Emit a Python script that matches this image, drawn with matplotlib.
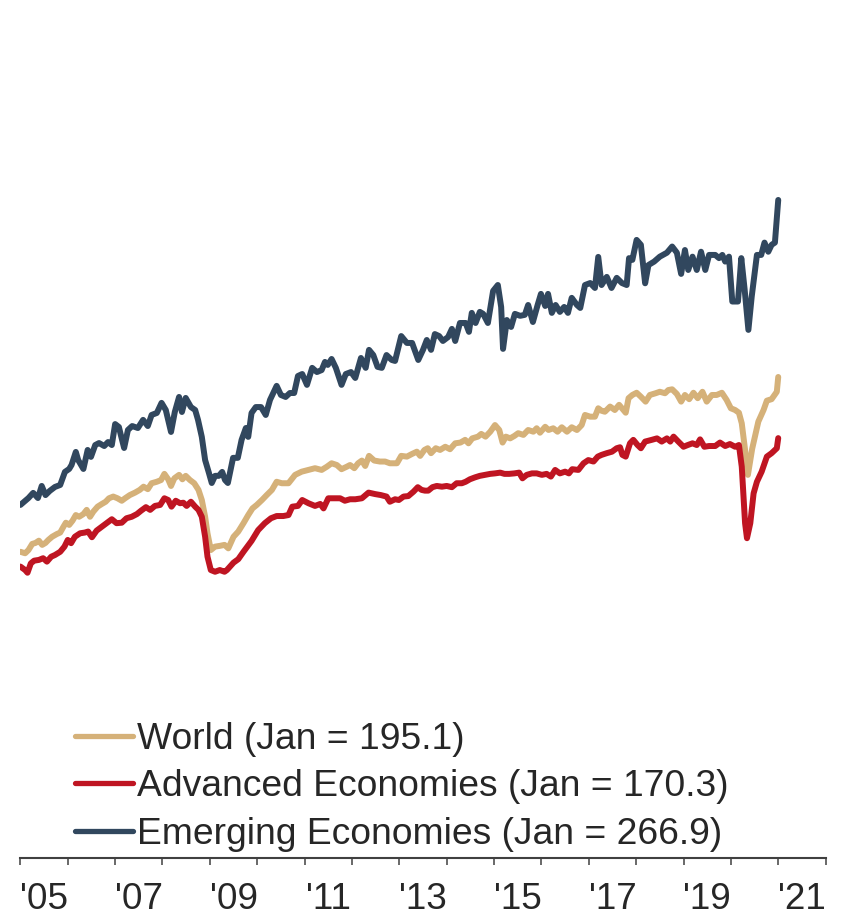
import matplotlib
matplotlib.use("Agg")
import matplotlib.pyplot as plt
import numpy as np

# Index values (decimal year, index level)
world = [
    (2005.00, 124.2), (2005.10, 123.6), (2005.17, 124.9), (2005.25, 127.4), (2005.32, 127.8),
    (2005.39, 128.7), (2005.46, 127.0), (2005.53, 127.8), (2005.59, 129.0), (2005.67, 130.3),
    (2005.77, 131.4), (2005.84, 132.0), (2005.91, 134.4), (2005.96, 136.0), (2006.03, 135.1),
    (2006.10, 136.8), (2006.17, 139.1), (2006.24, 138.4), (2006.33, 139.5), (2006.40, 141.2),
    (2006.47, 138.4), (2006.54, 140.5), (2006.63, 142.5), (2006.72, 143.6), (2006.80, 144.5),
    (2006.87, 145.9), (2006.96, 146.6), (2007.05, 145.9), (2007.14, 144.9), (2007.21, 145.9),
    (2007.31, 147.2), (2007.42, 148.2), (2007.52, 149.3), (2007.60, 150.6), (2007.69, 149.6),
    (2007.77, 152.0), (2007.88, 152.6), (2007.97, 153.3), (2008.04, 155.8), (2008.12, 153.6),
    (2008.18, 150.9), (2008.25, 154.0), (2008.35, 155.4), (2008.42, 153.6), (2008.49, 155.0),
    (2008.58, 153.3), (2008.67, 152.0), (2008.76, 149.3), (2008.83, 145.2), (2008.90, 138.4),
    (2008.95, 131.7), (2009.02, 124.9), (2009.11, 126.3), (2009.21, 126.6), (2009.31, 127.0),
    (2009.39, 125.6), (2009.50, 130.3), (2009.60, 132.4), (2009.71, 135.8), (2009.81, 139.1),
    (2009.90, 141.8), (2009.99, 143.2), (2010.10, 145.2), (2010.20, 147.2), (2010.31, 149.3),
    (2010.41, 152.6), (2010.52, 152.0), (2010.66, 152.0), (2010.80, 155.4), (2010.94, 156.7),
    (2011.08, 157.4), (2011.22, 158.1), (2011.36, 157.4), (2011.47, 158.7), (2011.57, 160.1),
    (2011.68, 159.4), (2011.78, 157.7), (2011.89, 158.7), (2011.96, 159.4), (2012.05, 158.1),
    (2012.13, 160.1), (2012.21, 161.2), (2012.28, 159.0), (2012.36, 163.1), (2012.47, 161.2),
    (2012.59, 160.8), (2012.70, 160.8), (2012.80, 160.1), (2012.95, 160.1), (2013.04, 163.1),
    (2013.16, 162.8), (2013.27, 163.9), (2013.37, 164.8), (2013.44, 163.1), (2013.53, 165.5),
    (2013.60, 166.2), (2013.67, 164.2), (2013.77, 166.2), (2013.86, 165.5), (2013.97, 166.8),
    (2014.07, 165.8), (2014.18, 168.2), (2014.29, 168.5), (2014.39, 169.6), (2014.46, 168.2),
    (2014.54, 170.2), (2014.66, 170.9), (2014.73, 172.0), (2014.82, 170.9), (2014.92, 172.9),
    (2015.02, 175.6), (2015.11, 173.6), (2015.18, 168.5), (2015.25, 170.9), (2015.34, 170.2),
    (2015.43, 171.2), (2015.51, 172.3), (2015.62, 171.6), (2015.72, 173.6), (2015.83, 172.9),
    (2015.90, 174.3), (2015.97, 172.5), (2016.08, 174.9), (2016.15, 173.6), (2016.25, 174.3),
    (2016.34, 172.9), (2016.43, 174.7), (2016.54, 172.9), (2016.64, 174.7), (2016.75, 173.6),
    (2016.85, 175.6), (2016.92, 179.7), (2017.03, 179.0), (2017.13, 179.0), (2017.20, 182.4),
    (2017.27, 181.4), (2017.34, 181.0), (2017.45, 183.1), (2017.55, 181.7), (2017.64, 183.8),
    (2017.73, 181.7), (2017.78, 180.6), (2017.84, 186.5), (2017.92, 187.8), (2018.01, 188.7),
    (2018.10, 187.1), (2018.20, 185.1), (2018.29, 187.8), (2018.41, 188.5), (2018.50, 189.1),
    (2018.61, 188.5), (2018.68, 189.8), (2018.76, 190.1), (2018.86, 188.2), (2018.95, 185.1),
    (2019.03, 187.8), (2019.12, 186.1), (2019.21, 188.7), (2019.30, 186.5), (2019.40, 189.1),
    (2019.49, 185.1), (2019.60, 187.8), (2019.70, 187.8), (2019.81, 188.7), (2019.91, 185.8),
    (2020.00, 182.4), (2020.09, 181.7), (2020.17, 180.6), (2020.23, 176.3), (2020.30, 165.5),
    (2020.36, 155.4), (2020.45, 166.0), (2020.52, 172.0), (2020.58, 177.0), (2020.69, 181.7),
    (2020.76, 185.5), (2020.86, 186.1), (2020.97, 189.1), (2021.00, 195.1),
]

advanced = [
    (2005.00, 118.2), (2005.10, 116.8), (2005.15, 115.7), (2005.22, 119.5), (2005.29, 120.6),
    (2005.39, 120.9), (2005.48, 121.6), (2005.56, 120.2), (2005.65, 122.2), (2005.73, 122.9),
    (2005.84, 124.2), (2005.93, 126.3), (2006.00, 129.0), (2006.07, 127.7), (2006.15, 130.3),
    (2006.26, 131.7), (2006.36, 132.0), (2006.43, 132.4), (2006.51, 130.1), (2006.61, 132.8),
    (2006.72, 134.4), (2006.82, 135.8), (2006.93, 137.4), (2007.03, 135.8), (2007.14, 136.0),
    (2007.24, 137.8), (2007.35, 138.4), (2007.46, 139.5), (2007.55, 140.9), (2007.65, 142.3),
    (2007.74, 141.2), (2007.84, 142.8), (2007.95, 143.2), (2008.04, 145.9), (2008.12, 145.2),
    (2008.19, 142.5), (2008.28, 144.9), (2008.37, 143.9), (2008.44, 144.1), (2008.51, 142.8),
    (2008.60, 144.5), (2008.69, 142.5), (2008.76, 141.2), (2008.83, 138.4), (2008.90, 130.3),
    (2008.95, 122.2), (2009.02, 116.8), (2009.11, 116.1), (2009.21, 116.8), (2009.31, 116.1),
    (2009.36, 116.8), (2009.50, 119.8), (2009.60, 121.2), (2009.71, 124.2), (2009.88, 128.6),
    (2010.02, 133.0), (2010.16, 135.8), (2010.29, 137.8), (2010.41, 138.7), (2010.55, 138.7),
    (2010.66, 139.1), (2010.74, 142.5), (2010.86, 142.8), (2010.95, 145.2), (2011.08, 143.9),
    (2011.22, 142.8), (2011.33, 143.6), (2011.40, 141.8), (2011.50, 145.9), (2011.63, 145.9),
    (2011.75, 145.9), (2011.85, 144.9), (2011.96, 145.5), (2012.07, 145.5), (2012.21, 145.9),
    (2012.35, 148.2), (2012.49, 147.6), (2012.61, 147.2), (2012.73, 146.6), (2012.80, 144.5),
    (2012.91, 145.5), (2012.99, 145.2), (2013.09, 146.6), (2013.19, 146.8), (2013.30, 148.6),
    (2013.39, 150.4), (2013.47, 149.3), (2013.54, 149.0), (2013.61, 149.0), (2013.70, 150.4),
    (2013.79, 150.9), (2013.90, 150.6), (2014.00, 150.9), (2014.11, 150.4), (2014.21, 152.0),
    (2014.32, 152.0), (2014.40, 152.6), (2014.49, 153.6), (2014.60, 154.4), (2014.70, 155.0),
    (2014.81, 155.4), (2014.92, 155.8), (2015.02, 156.0), (2015.13, 156.3), (2015.22, 155.8),
    (2015.32, 155.8), (2015.43, 156.0), (2015.53, 156.3), (2015.60, 154.0), (2015.69, 155.4),
    (2015.80, 156.0), (2015.90, 156.0), (2016.01, 155.4), (2016.11, 155.8), (2016.20, 154.7),
    (2016.29, 157.4), (2016.39, 156.0), (2016.50, 156.7), (2016.58, 156.0), (2016.65, 157.7),
    (2016.78, 157.4), (2016.89, 160.1), (2016.99, 161.4), (2017.10, 160.8), (2017.19, 162.8),
    (2017.27, 163.5), (2017.38, 164.2), (2017.49, 164.8), (2017.59, 166.2), (2017.66, 166.6),
    (2017.71, 163.5), (2017.78, 162.8), (2017.87, 168.2), (2017.94, 169.6), (2018.03, 167.5),
    (2018.10, 166.2), (2018.19, 168.9), (2018.33, 169.6), (2018.44, 170.2), (2018.54, 168.9),
    (2018.65, 170.2), (2018.72, 168.9), (2018.79, 170.9), (2018.89, 168.9), (2019.00, 166.8),
    (2019.09, 167.5), (2019.19, 168.2), (2019.28, 167.5), (2019.35, 169.8), (2019.44, 166.8),
    (2019.54, 167.1), (2019.67, 167.1), (2019.77, 168.5), (2019.88, 167.1), (2019.98, 167.9),
    (2020.09, 166.8), (2020.17, 167.5), (2020.23, 158.7), (2020.30, 135.8), (2020.34, 129.7),
    (2020.41, 135.8), (2020.48, 147.9), (2020.55, 152.6), (2020.65, 156.7), (2020.76, 162.8),
    (2020.86, 164.2), (2020.97, 166.2), (2021.00, 170.3),
]

emerging = [
    (2005.00, 143.2), (2005.17, 146.0), (2005.27, 148.1), (2005.37, 146.0), (2005.45, 150.9),
    (2005.53, 147.2), (2005.62, 148.9), (2005.73, 150.5), (2005.84, 151.3), (2005.94, 156.6),
    (2006.03, 157.8), (2006.08, 159.4), (2006.17, 164.7), (2006.22, 161.4), (2006.33, 157.8),
    (2006.42, 165.5), (2006.49, 162.7), (2006.58, 167.5), (2006.66, 168.3), (2006.77, 167.1),
    (2006.85, 168.7), (2006.93, 167.5), (2007.00, 176.0), (2007.08, 174.8), (2007.12, 171.6),
    (2007.19, 166.3), (2007.27, 173.6), (2007.36, 175.2), (2007.48, 174.4), (2007.59, 177.7),
    (2007.69, 175.2), (2007.77, 179.7), (2007.88, 180.5), (2007.98, 184.6), (2008.07, 181.7),
    (2008.18, 172.8), (2008.26, 180.9), (2008.35, 187.0), (2008.41, 180.9), (2008.49, 186.6),
    (2008.60, 182.9), (2008.69, 181.7), (2008.75, 177.7), (2008.83, 170.8), (2008.90, 161.4),
    (2008.98, 156.2), (2009.04, 152.1), (2009.11, 155.0), (2009.19, 155.0), (2009.26, 156.6),
    (2009.32, 153.3), (2009.38, 152.1), (2009.49, 162.3), (2009.59, 162.3), (2009.67, 169.6),
    (2009.76, 174.4), (2009.81, 170.8), (2009.88, 180.5), (2009.97, 182.9), (2010.08, 182.9),
    (2010.18, 179.7), (2010.27, 185.8), (2010.41, 191.5), (2010.50, 187.8), (2010.60, 187.0),
    (2010.69, 188.6), (2010.78, 188.6), (2010.86, 195.5), (2010.95, 196.3), (2011.05, 191.9),
    (2011.16, 198.8), (2011.26, 197.1), (2011.36, 197.9), (2011.43, 201.2), (2011.49, 200.0),
    (2011.57, 202.4), (2011.66, 198.8), (2011.78, 191.9), (2011.87, 196.3), (2011.98, 197.1),
    (2012.07, 194.7), (2012.19, 202.8), (2012.29, 198.8), (2012.36, 206.1), (2012.45, 204.0),
    (2012.54, 199.2), (2012.63, 198.8), (2012.73, 204.0), (2012.84, 202.0), (2012.91, 201.6),
    (2013.04, 211.7), (2013.16, 208.9), (2013.27, 208.9), (2013.40, 202.0), (2013.50, 206.1),
    (2013.58, 210.1), (2013.67, 206.1), (2013.75, 212.5), (2013.84, 211.7), (2013.92, 209.7),
    (2014.03, 211.3), (2014.11, 214.6), (2014.18, 209.7), (2014.28, 217.0), (2014.40, 217.0),
    (2014.47, 213.4), (2014.53, 221.1), (2014.61, 217.0), (2014.70, 221.5), (2014.77, 220.7),
    (2014.87, 217.0), (2014.98, 230.0), (2015.08, 232.4), (2015.15, 223.5), (2015.19, 206.5),
    (2015.27, 218.2), (2015.36, 215.4), (2015.44, 220.7), (2015.55, 219.9), (2015.65, 220.3),
    (2015.72, 224.3), (2015.82, 217.4), (2015.92, 224.3), (2015.99, 228.8), (2016.08, 223.9),
    (2016.14, 228.8), (2016.22, 221.1), (2016.30, 224.3), (2016.39, 221.5), (2016.48, 223.5),
    (2016.56, 221.1), (2016.64, 227.2), (2016.75, 224.3), (2016.82, 223.1), (2016.92, 232.4),
    (2017.03, 233.2), (2017.13, 231.2), (2017.20, 243.8), (2017.27, 232.4), (2017.38, 235.7),
    (2017.48, 231.2), (2017.59, 235.3), (2017.70, 233.2), (2017.80, 232.4), (2017.85, 243.3),
    (2017.92, 242.6), (2018.01, 250.7), (2018.10, 248.7), (2018.19, 233.1), (2018.26, 240.5),
    (2018.38, 241.9), (2018.50, 243.9), (2018.65, 245.5), (2018.76, 248.0), (2018.86, 245.5),
    (2018.95, 236.9), (2019.03, 246.6), (2019.10, 238.5), (2019.19, 243.9), (2019.28, 238.5),
    (2019.37, 245.9), (2019.46, 238.5), (2019.54, 244.6), (2019.67, 244.6), (2019.75, 243.3),
    (2019.82, 244.6), (2019.88, 241.9), (2019.96, 243.9), (2020.03, 225.7), (2020.15, 225.7),
    (2020.22, 243.3), (2020.29, 230.7), (2020.37, 214.2), (2020.44, 227.7), (2020.55, 244.6),
    (2020.64, 244.6), (2020.71, 249.6), (2020.79, 245.9), (2020.86, 248.7), (2020.93, 249.6),
    (2021.00, 266.9),
]

series_labels = [
    "World (Jan = 195.1)",
    "Advanced Economies (Jan = 170.3)",
    "Emerging Economies (Jan = 266.9)",
]
series_colors = ["#D5B179", "#BF1522", "#31475E"]

year_ticks = list(range(2005, 2023))
label_years = list(range(2005, 2022, 2))
year_labels = [f"'{y % 100:02d}" for y in label_years]

plt.rcParams["font.family"] = ["Liberation Sans", "DejaVu Sans"]

fig = plt.figure(figsize=(8.41, 9.17), dpi=100)
ax = fig.add_axes([20.4 / 841, 59 / 917, 805.2 / 841, 858 / 917])

for data, label, color in zip([world, advanced, emerging], series_labels, series_colors):
    t, v = np.array(data).T
    ax.plot(t, v, color=color, lw=4.3, label=label,
            solid_joinstyle="round", solid_capstyle="round")

ax.set_xlim(2005, 2022)
ax.set_ylim(0, 348)

for side in ["top", "right", "left"]:
    ax.spines[side].set_visible(False)
ax.spines["bottom"].set_color("#404040")
ax.spines["bottom"].set_linewidth(1.5)
ax.set_yticks([])

ax.set_xticks(year_ticks)
ax.set_xticklabels([])
ax.tick_params(axis="x", which="major", direction="out", length=5.2,
               width=1.1, color="#404040")
ax.set_xticks([y + 0.5 for y in label_years], minor=True)
ax.set_xticklabels(year_labels, minor=True)
ax.tick_params(axis="x", which="minor", length=0, pad=17,
               labelsize=26.6, labelcolor="#262626")

leg = ax.legend(loc="upper left", bbox_to_anchor=(75 / 841, 1 - 722 / 917),
                bbox_transform=fig.transFigure, frameon=False, fontsize=26.8,
                borderpad=0, borderaxespad=0, handlelength=1.55,
                handletextpad=0.12, labelspacing=0.33)
for txt in leg.get_texts():
    txt.set_color("#262626")
for line in leg.get_lines():
    line.set_linewidth(3.8)

fig.savefig("out.png", dpi=100)
